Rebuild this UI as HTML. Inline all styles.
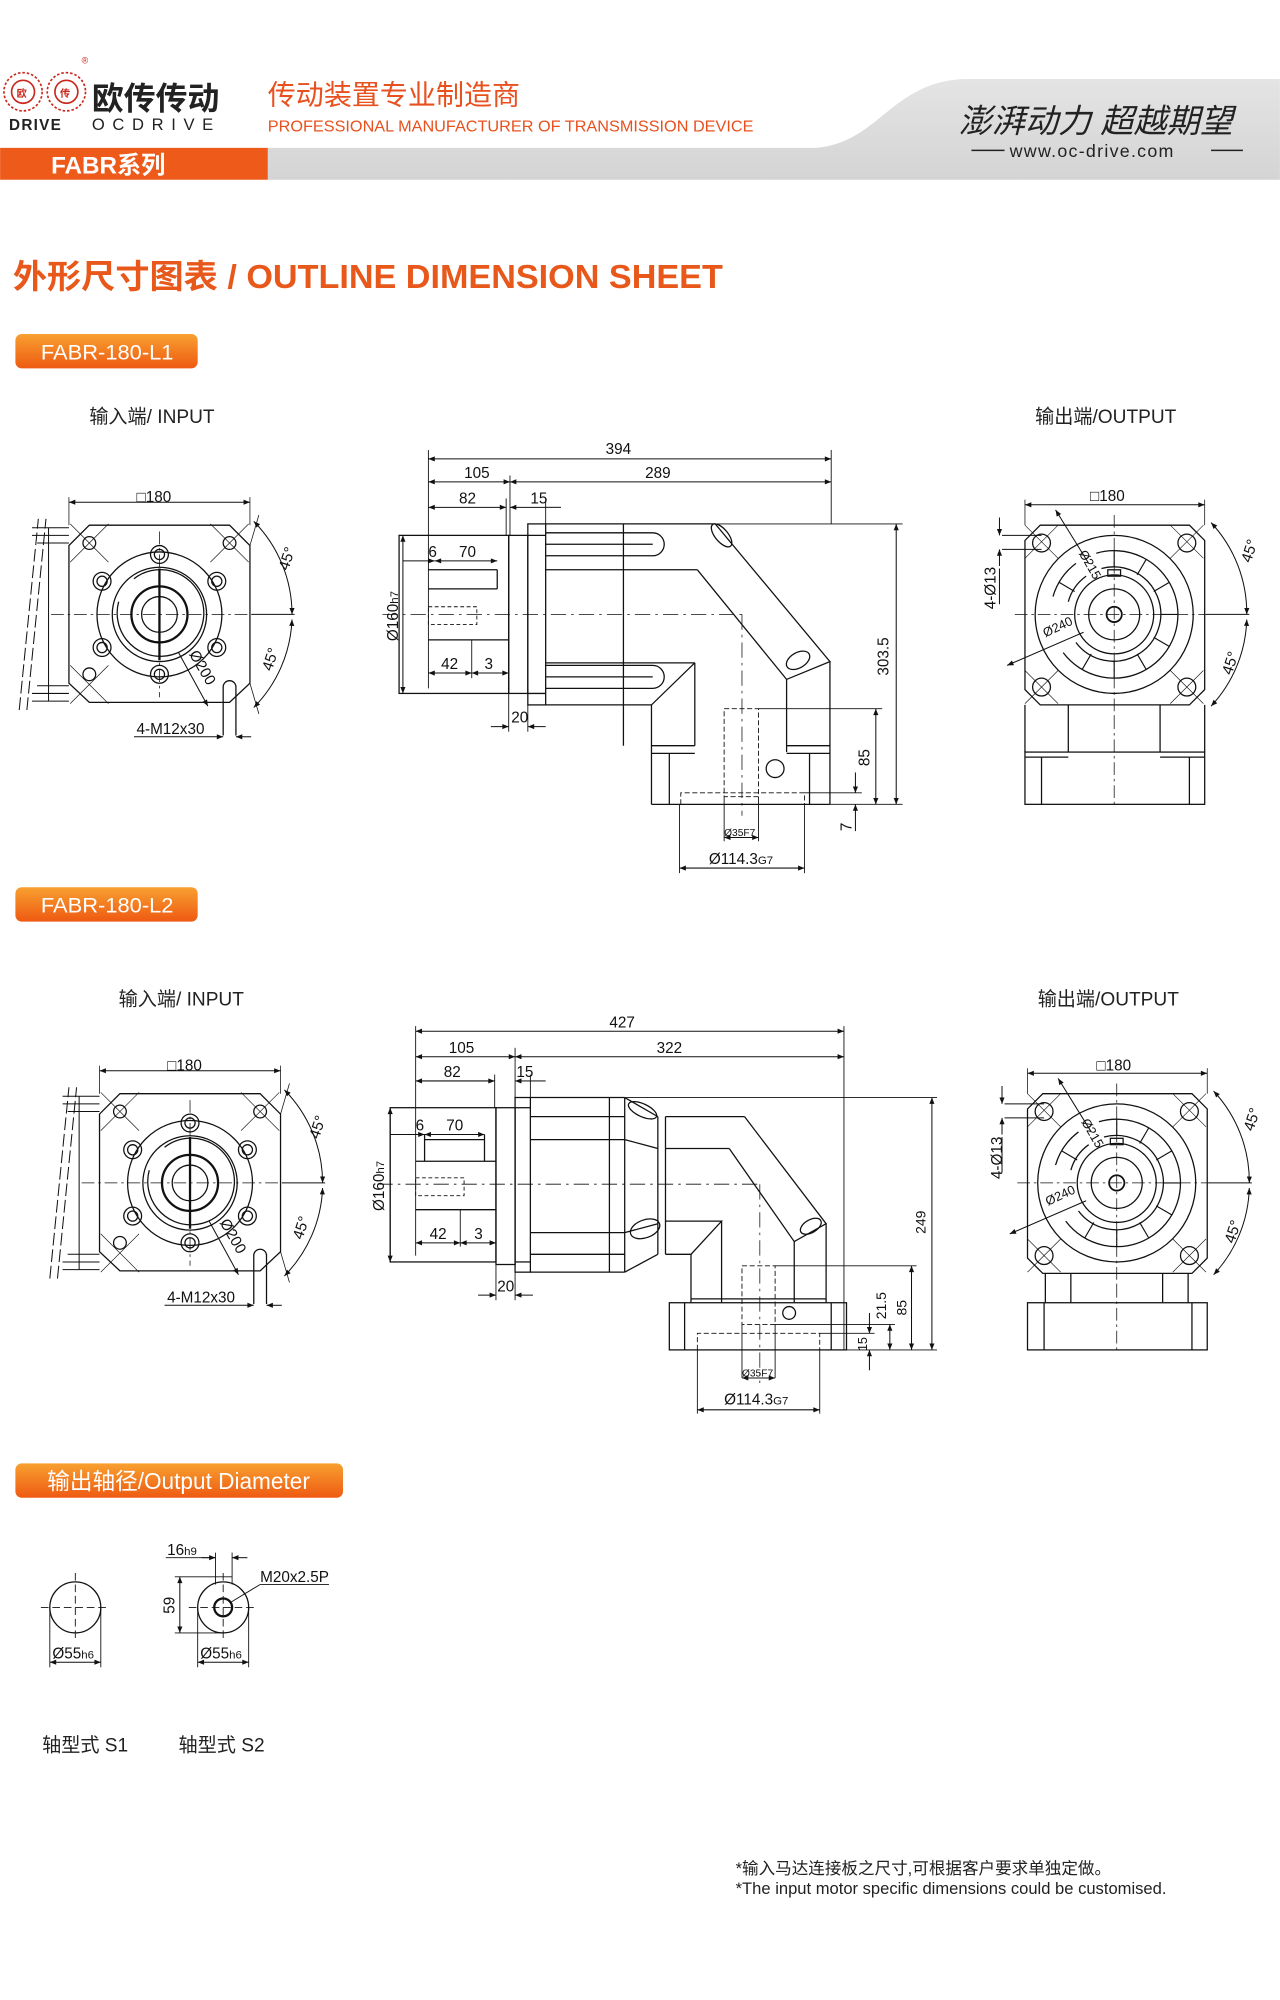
<!DOCTYPE html>
<html><head><meta charset="utf-8"><style>
html,body{margin:0;padding:0;background:#fff;}
svg{display:block;}
text{font-family:"Liberation Sans","Noto Sans CJK SC",sans-serif;}
</style></head><body>
<svg width="1280" height="2000" viewBox="0 0 1004 1569" xmlns="http://www.w3.org/2000/svg">
<defs>
<marker id="a" viewBox="0 0 10 10" refX="10" refY="5" markerWidth="7" markerHeight="5" markerUnits="userSpaceOnUse" orient="auto-start-reverse"><path d="M0,1 L10,5 L0,9z" fill="#111"/></marker>
<linearGradient id="og" x1="0" y1="0" x2="0" y2="1"><stop offset="0" stop-color="#f8a030"/><stop offset="1" stop-color="#ee5a12"/></linearGradient>
<linearGradient id="gg" x1="0" y1="0" x2="0" y2="1"><stop offset="0" stop-color="#e4e4e4"/><stop offset="1" stop-color="#d4d4d4"/></linearGradient>
</defs>

<!-- HEADER -->
<path d="M640,116 C690,112 700,62 760,62 L1004,62 L1004,141 L210,141 L210,116 Z" fill="url(#gg)"/>
<rect x="0" y="116" width="210" height="25" fill="#ee5a1a"/>
<text x="40" y="136" font-size="19" fill="#fff" font-weight="bold">FABR系列</text>
<g fill="none" stroke="#c8281e" stroke-width="1.3">
<circle cx="18" cy="72" r="15" stroke-dasharray="2 1.5"/><circle cx="18" cy="72" r="9"/>
<circle cx="52" cy="72" r="15" stroke-dasharray="2 1.5"/><circle cx="52" cy="72" r="9"/>
</g>
<text x="13" y="76" font-size="8" fill="#c8281e" font-weight="bold">欧</text>
<text x="47" y="76" font-size="8" fill="#c8281e" font-weight="bold">传</text>
<text x="64" y="50" font-size="7" fill="#c8281e">®</text>
<text x="72" y="86" font-size="25" font-weight="bold" fill="#222">欧传传动</text>
<text x="7" y="102" font-size="12" fill="#222" font-weight="bold" letter-spacing="1">DRIVE</text>
<text x="72" y="102" font-size="13" fill="#222" letter-spacing="6">OCDRIVE</text>
<text x="210" y="82" font-size="22" fill="#e8501e">传动装置专业制造商</text>
<text x="210" y="103" font-size="12.5" fill="#e8501e" textLength="381" lengthAdjust="spacingAndGlyphs">PROFESSIONAL MANUFACTURER OF TRANSMISSION DEVICE</text>
<text x="752" y="104" font-size="26" fill="#222" font-family="'Liberation Serif','Noto Serif CJK SC',serif" font-style="italic">澎湃动力 超越期望</text>
<line x1="762" y1="118" x2="788" y2="118" stroke="#222" stroke-width="1.2"/>
<line x1="950" y1="118" x2="975" y2="118" stroke="#222" stroke-width="1.2"/>
<text x="792" y="123" font-size="14" fill="#222" letter-spacing="1">www.oc-drive.com</text>

<!-- TITLE -->
<text x="10" y="226" font-size="26" font-weight="bold" fill="#e8581a" textLength="557" lengthAdjust="spacingAndGlyphs">外形尺寸图表 / OUTLINE DIMENSION SHEET</text>

<!-- PILLS -->
<rect x="12" y="262" width="143" height="27" rx="5" fill="url(#og)"/>
<text x="32" y="282" font-size="17" fill="#fff" textLength="104" lengthAdjust="spacingAndGlyphs">FABR-180-L1</text>
<rect x="12" y="696" width="143" height="27" rx="5" fill="url(#og)"/>
<text x="32" y="716" font-size="17" fill="#fff" textLength="104" lengthAdjust="spacingAndGlyphs">FABR-180-L2</text>
<rect x="12" y="1148" width="257" height="27" rx="5" fill="url(#og)"/>
<text x="37" y="1168" font-size="18" fill="#fff" textLength="206" lengthAdjust="spacingAndGlyphs">输出轴径/Output Diameter</text>

<!-- Section labels -->
<g font-size="15" fill="#222">
<text x="70" y="332">输入端/ INPUT</text>
<text x="812" y="332">输出端/OUTPUT</text>
<text x="93" y="789">输入端/ INPUT</text>
<text x="814" y="789">输出端/OUTPUT</text>
</g>

<!-- INPUT VIEW group -->
<g id="inv" transform="translate(125,482)" fill="none" stroke="#111" stroke-width="1">
<polygon points="-55,-70 55,-70 71,-54 71,54 55,69 -55,69 -71,54 -71,-54"/>
<g stroke-width="0.8">
<line x1="-100" y1="-68" x2="-71" y2="-68"/><line x1="-100" y1="-62" x2="-71" y2="-62"/><line x1="-96" y1="-56" x2="-71" y2="-56"/>
<line x1="-100" y1="68" x2="-71" y2="68"/><line x1="-100" y1="62" x2="-71" y2="62"/><line x1="-96" y1="56" x2="-71" y2="56"/>
<line x1="-87" y1="-68" x2="-87" y2="68"/>
<line x1="-110" y1="75" x2="-95" y2="-75" stroke-dasharray="10 3"/>
<line x1="-104" y1="75" x2="-89" y2="-75" stroke-dasharray="10 3"/>
</g>
<circle r="49"/><circle r="37"/><path d="M-32,-10 A34,34 0 1 0 -20,-28"/>
<circle r="22" stroke-width="1.8"/><circle r="14"/>
<line x1="0" y1="-36" x2="0" y2="36" stroke-width="1.8"/>
<g>
<circle cx="0" cy="-47" r="7"/><circle cx="0" cy="-47" r="4"/>
<circle cx="0" cy="47" r="7"/><circle cx="0" cy="47" r="4"/>
<circle cx="-45" cy="-26" r="7"/><circle cx="-45" cy="-26" r="4"/>
<circle cx="45" cy="-26" r="7"/><circle cx="45" cy="-26" r="4"/>
<circle cx="-45" cy="26" r="7"/><circle cx="-45" cy="26" r="4"/>
<circle cx="45" cy="26" r="7"/><circle cx="45" cy="26" r="4"/>
<circle cx="-55" cy="-56" r="5"/><circle cx="55" cy="-56" r="5"/>
<circle cx="-55" cy="47" r="5"/>
<path d="M50,56 L50,95 M60,56 L60,95 M50,57 A5,5 0 0 1 60,57"/>
</g>
<g stroke-width="0.5">
<line x1="-70" y1="-71" x2="-40" y2="-41"/><line x1="70" y1="-71" x2="40" y2="-41"/>
<line x1="-70" y1="70" x2="-40" y2="40"/><line x1="-40" y1="-71" x2="-70" y2="-41"/><line x1="40" y1="-71" x2="70" y2="-41"/>
<line x1="-40" y1="70" x2="-70" y2="40"/>
</g>
<g stroke-width="0.6" stroke-dasharray="10 3 2 3">
<line x1="-85" y1="0" x2="72" y2="0"/><line x1="0" y1="-65" x2="0" y2="65"/>
</g>
<line x1="72" y1="0" x2="106" y2="0" stroke-width="0.8"/>
<line x1="-71" y1="-88" x2="71" y2="-88" stroke-width="0.8" marker-start="url(#a)" marker-end="url(#a)"/>
<line x1="-71" y1="-92" x2="-71" y2="-70" stroke-width="0.6"/><line x1="71" y1="-92" x2="71" y2="-70" stroke-width="0.6"/>
<path d="M74,-73 A104,104 0 0 1 104,0" stroke-width="0.8" marker-start="url(#a)" marker-end="url(#a)"/>
<path d="M104,4 A104,104 0 0 1 74,73" stroke-width="0.8" marker-start="url(#a)" marker-end="url(#a)"/>
<line x1="71" y1="-54" x2="78" y2="-78" stroke-width="0.6"/><line x1="71" y1="54" x2="78" y2="78" stroke-width="0.6"/>
<line x1="15" y1="30" x2="38" y2="72" stroke-width="0.8" marker-end="url(#a)"/>
<line x1="-20" y1="96" x2="50" y2="96" stroke-width="0.8" marker-end="url(#a)"/>
<line x1="60" y1="96" x2="72" y2="96" stroke-width="0.8" marker-start="url(#a)"/>
</g>
<g font-size="12" fill="#111">
<text x="107" y="394">□180</text>
<text transform="translate(226,448) rotate(-72)">45°</text>
<text transform="translate(213,527) rotate(-72)">45°</text>
<text transform="translate(148,513) rotate(60)">Ø200</text>
<text x="107" y="576">4-M12x30</text>
</g>
<use href="#inv" transform="translate(24,446)"/>
<g font-size="12" fill="#111">
<text x="131" y="840">□180</text>
<text transform="translate(250,894) rotate(-72)">45°</text>
<text transform="translate(237,973) rotate(-72)">45°</text>
<text transform="translate(172,959) rotate(60)">Ø200</text>
<text x="131" y="1022">4-M12x30</text>
</g>

<!-- OUTPUT VIEW group (head only) -->
<g id="outv" transform="translate(874,482)" fill="none" stroke="#111" stroke-width="1">
<polygon points="-58,-70 59,-70 71,-58 71,59 59,71 -58,71 -70,59 -70,-58"/>
<circle r="62"/>
<path d="M-48,-14 A50,50 0 0 1 -30,-40 M-14,-48 A50,50 0 1 1 -40,30"/>
<path d="M-36,-10 A37,37 0 0 1 -22,-30 M-10,-36 A37,37 0 1 1 -30,22"/>
<circle r="31"/><circle r="20"/><circle r="6" stroke-width="1.4"/>
<rect x="-5" y="-35" width="10" height="5"/>
<g stroke-width="0.9">
<line x1="0" y1="-37" x2="0" y2="-50"/><line x1="18" y1="-31" x2="25" y2="-43"/><line x1="31" y1="-18" x2="43" y2="-25"/>
<line x1="37" y1="0" x2="50" y2="0"/><line x1="31" y1="18" x2="43" y2="25"/><line x1="18" y1="31" x2="25" y2="43"/>
<line x1="0" y1="37" x2="0" y2="50"/><line x1="-18" y1="31" x2="-25" y2="43"/><line x1="-31" y1="-18" x2="-43" y2="-25"/>
</g>
<circle cx="-57" cy="-56" r="7"/><circle cx="57" cy="-56" r="7"/><circle cx="-57" cy="57" r="7"/><circle cx="57" cy="57" r="7"/>
<g stroke-width="0.5">
<line x1="-70" y1="-70" x2="-44" y2="-44"/><line x1="70" y1="-70" x2="44" y2="-44"/>
<line x1="-70" y1="70" x2="-44" y2="44"/><line x1="70" y1="70" x2="44" y2="44"/>
<line x1="-44" y1="-70" x2="-70" y2="-44"/><line x1="44" y1="-70" x2="70" y2="-44"/>
<line x1="-44" y1="70" x2="-70" y2="44"/><line x1="44" y1="70" x2="70" y2="44"/>
</g>
<g stroke-width="0.6" stroke-dasharray="10 3 2 3">
<line x1="-78" y1="0" x2="72" y2="0"/><line x1="0" y1="-78" x2="0" y2="80"/>
</g>
<line x1="72" y1="0" x2="106" y2="0" stroke-width="0.8"/>
<line x1="-70" y1="-86" x2="71" y2="-86" stroke-width="0.8" marker-start="url(#a)" marker-end="url(#a)"/>
<line x1="-70" y1="-90" x2="-70" y2="-70" stroke-width="0.6"/><line x1="71" y1="-90" x2="71" y2="-70" stroke-width="0.6"/>
<path d="M-88,-62 L-57,-62 M-88,-51 L-57,-51" stroke-width="0.8"/>
<line x1="-90" y1="-76" x2="-90" y2="-62" stroke-width="0.8" marker-end="url(#a)"/>
<line x1="-90" y1="-38" x2="-90" y2="-51" stroke-width="0.8" marker-end="url(#a)"/>
<line x1="-90" y1="-36" x2="-90" y2="-8" stroke-width="0.8"/>
<path d="M76,-72 A104,104 0 0 1 104,0" stroke-width="0.8" marker-start="url(#a)" marker-end="url(#a)"/>
<path d="M104,4 A104,104 0 0 1 76,72" stroke-width="0.8" marker-start="url(#a)" marker-end="url(#a)"/>
<line x1="-20" y1="-40" x2="-46" y2="-82" stroke-width="0.8" marker-end="url(#a)"/>
<line x1="-24" y1="14" x2="-84" y2="40" stroke-width="0.8" marker-end="url(#a)"/>
</g>
<!-- L1 output lower part -->
<g transform="translate(874,482)" fill="none" stroke="#111" stroke-width="1">
<path d="M-70,71 L-70,108 M-36,71 L-36,108 M36,71 L36,108 M71,71 L71,108"/>
<rect x="-70" y="108" width="141" height="41"/>
<line x1="-70" y1="112" x2="-36" y2="112"/><line x1="36" y1="112" x2="71" y2="112"/>
<line x1="-57" y1="112" x2="-57" y2="149"/><line x1="59" y1="112" x2="59" y2="149"/>
<line x1="0" y1="80" x2="0" y2="152" stroke-width="0.6" stroke-dasharray="10 3 2 3"/>
</g>
<g font-size="12" fill="#111">
<text x="855" y="393">□180</text>
<text transform="translate(781,478) rotate(-90)">4-Ø13</text>
<text transform="translate(981,442) rotate(-72)">45°</text>
<text transform="translate(966,530) rotate(-72)">45°</text>
<text transform="translate(846,434) rotate(60)" font-size="10">Ø215</text>
<text transform="translate(820,500) rotate(-25)" font-size="10">Ø240</text>
</g>
<use href="#outv" transform="translate(2,446)"/>
<!-- L2 output lower part -->
<g transform="translate(876,928)" fill="none" stroke="#111" stroke-width="1">
<path d="M-56,71 L-56,94 M56,71 L56,94"/>
<line x1="-36" y1="71" x2="-36" y2="94"/><line x1="36" y1="71" x2="36" y2="94"/>
<rect x="-70" y="94" width="141" height="37"/>
<line x1="-57" y1="94" x2="-57" y2="131"/><line x1="59" y1="94" x2="59" y2="131"/>
<line x1="0" y1="80" x2="0" y2="134" stroke-width="0.6" stroke-dasharray="10 3 2 3"/>
</g>
<g font-size="12" fill="#111">
<text x="860" y="840">□180</text>
<text transform="translate(786,925) rotate(-90)">4-Ø13</text>
<text transform="translate(983,888) rotate(-72)">45°</text>
<text transform="translate(968,976) rotate(-72)">45°</text>
<text transform="translate(848,880) rotate(60)" font-size="10">Ø215</text>
<text transform="translate(822,946) rotate(-25)" font-size="10">Ø240</text>
</g>

<!-- L1 SIDE VIEW -->
<g fill="none" stroke="#111" stroke-width="1">
<rect x="313" y="420" width="86" height="124"/>
<line x1="336" y1="447" x2="390" y2="447"/><line x1="336" y1="462" x2="390" y2="462"/>
<line x1="336" y1="502" x2="399" y2="502"/><line x1="390" y1="447" x2="390" y2="462"/>
<rect x="336" y="476" width="38" height="14" stroke-dasharray="3 2" stroke-width="0.7"/>
<rect x="399" y="420" width="15" height="124"/>
<rect x="414" y="411" width="14" height="142"/>
<line x1="414" y1="420" x2="428" y2="420"/><line x1="414" y1="544" x2="428" y2="544"/>
<line x1="428" y1="411" x2="561" y2="411"/>
<path d="M428,418 L512,418 A9,9 0 0 1 512,436 L428,436"/>
<line x1="428" y1="427" x2="512" y2="427"/>
<line x1="428" y1="447" x2="547" y2="447"/>
<line x1="489" y1="411" x2="489" y2="585"/>
<path d="M561,411 L651,519 L617,533 L547,447"/>
<ellipse cx="566" cy="420" rx="5" ry="11" transform="rotate(-40 566 420)"/>
<ellipse cx="626" cy="518" rx="6" ry="10" transform="rotate(60 626 518)"/>
<line x1="428" y1="520" x2="545" y2="520"/>
<path d="M428,522 L512,522 A9,9 0 0 1 512,540 L428,540"/>
<line x1="428" y1="531" x2="512" y2="531"/>
<path d="M545,520 L511,553 L428,553"/>
<line x1="545" y1="520" x2="545" y2="585"/>
<line x1="651" y1="519" x2="651" y2="631"/>
<line x1="617" y1="533" x2="617" y2="590"/>
<line x1="511" y1="553" x2="511" y2="631"/>
<line x1="511" y1="585" x2="545" y2="585"/><line x1="617" y1="585" x2="651" y2="585"/>
<line x1="511" y1="591" x2="545" y2="591"/><line x1="617" y1="591" x2="651" y2="591"/>
<line x1="525" y1="591" x2="525" y2="631"/><line x1="635" y1="591" x2="635" y2="631"/>
<line x1="511" y1="631" x2="651" y2="631"/>
<circle cx="608" cy="603" r="7"/>
<g stroke-dasharray="4 2" stroke-width="0.7">
<rect x="568" y="556" width="27" height="69"/>
<path d="M534,631 L534,622 L631,622 L631,631"/>
</g>
<g stroke-width="0.6" stroke-dasharray="12 4 2 4">
<line x1="300" y1="482" x2="582" y2="482"/><line x1="582" y1="482" x2="582" y2="640"/>
</g>
<g stroke-width="0.7">
<line x1="336" y1="353" x2="336" y2="540"/><line x1="652" y1="353" x2="652" y2="411"/>
<line x1="400" y1="373" x2="400" y2="420"/><line x1="428" y1="391" x2="428" y2="411"/>
<line x1="397" y1="391" x2="397" y2="420"/>
<line x1="428" y1="411" x2="708" y2="411"/><line x1="651" y1="631" x2="708" y2="631"/>
<line x1="595" y1="556" x2="692" y2="556"/><line x1="631" y1="622" x2="676" y2="622"/>
<line x1="399" y1="544" x2="399" y2="574"/><line x1="414" y1="553" x2="414" y2="574"/>
<line x1="370" y1="502" x2="370" y2="532"/>
<line x1="533" y1="631" x2="533" y2="685"/><line x1="631" y1="631" x2="631" y2="685"/>
<line x1="568" y1="625" x2="568" y2="660"/><line x1="595" y1="625" x2="595" y2="660"/>
</g>
<g stroke-width="0.8">
<line x1="336" y1="360" x2="652" y2="360" marker-start="url(#a)" marker-end="url(#a)"/>
<line x1="336" y1="378" x2="400" y2="378" marker-start="url(#a)" marker-end="url(#a)"/>
<line x1="400" y1="378" x2="652" y2="378" marker-start="url(#a)" marker-end="url(#a)"/>
<line x1="336" y1="398" x2="397" y2="398" marker-start="url(#a)" marker-end="url(#a)"/>
<line x1="400" y1="398" x2="428" y2="398" marker-start="url(#a)"/><line x1="428" y1="398" x2="440" y2="398"/>
<line x1="316" y1="420" x2="316" y2="544" marker-start="url(#a)" marker-end="url(#a)"/>
<line x1="316" y1="440" x2="341" y2="440" marker-end="url(#a)"/><line x1="341" y1="440" x2="390" y2="440" marker-start="url(#a)" marker-end="url(#a)"/>
<line x1="336" y1="528" x2="370" y2="528" marker-start="url(#a)" marker-end="url(#a)"/>
<line x1="370" y1="528" x2="399" y2="528" marker-start="url(#a)" marker-end="url(#a)"/>
<line x1="385" y1="570" x2="399" y2="570" marker-end="url(#a)"/><line x1="428" y1="570" x2="414" y2="570" marker-end="url(#a)"/>
<line x1="703" y1="411" x2="703" y2="631" marker-start="url(#a)" marker-end="url(#a)"/>
<line x1="687" y1="556" x2="687" y2="631" marker-start="url(#a)" marker-end="url(#a)"/>
<line x1="671" y1="606" x2="671" y2="622" marker-end="url(#a)"/><line x1="671" y1="652" x2="671" y2="631" marker-end="url(#a)"/>
<line x1="568" y1="657" x2="595" y2="657" marker-start="url(#a)" marker-end="url(#a)"/>
<line x1="533" y1="681" x2="631" y2="681" marker-start="url(#a)" marker-end="url(#a)"/>
</g>
</g>
<g font-size="12" fill="#111">
<text x="475" y="356">394</text><text x="364" y="375">105</text><text x="506" y="375">289</text>
<text x="360" y="395">82</text><text x="416" y="395">15</text>
<text x="336" y="437">6</text><text x="360" y="437">70</text>
<text x="346" y="525">42</text><text x="380" y="525">3</text>
<text x="401" y="567">20</text>
<text transform="translate(312,503) rotate(-90)">Ø160<tspan font-size="9">h7</tspan></text>
<text transform="translate(697,530) rotate(-90)">303.5</text>
<text transform="translate(682,601) rotate(-90)">85</text>
<text transform="translate(668,652) rotate(-90)">7</text>
<text x="568" y="656" font-size="8">Ø35F7</text>
<text x="556" y="678">Ø114.3<tspan font-size="9">G7</tspan></text>
</g>

<!-- L2 SIDE VIEW -->
<g fill="none" stroke="#111" stroke-width="1">
<rect x="306" y="869" width="83" height="121"/>
<line x1="333" y1="894" x2="380" y2="894"/><line x1="326" y1="911" x2="389" y2="911"/>
<line x1="326" y1="949" x2="389" y2="949"/><line x1="333" y1="890" x2="333" y2="911"/><line x1="380" y1="890" x2="380" y2="911"/>
<rect x="326" y="924" width="38" height="14" stroke-dasharray="3 2" stroke-width="0.7"/>
<rect x="389" y="869" width="15" height="123"/>
<rect x="404" y="861" width="12" height="137"/>
<line x1="404" y1="869" x2="416" y2="869"/><line x1="404" y1="990" x2="416" y2="990"/>
<line x1="416" y1="861" x2="490" y2="861"/><line x1="416" y1="998" x2="490" y2="998"/>
<line x1="416" y1="876" x2="490" y2="876"/><line x1="416" y1="894" x2="490" y2="894"/>
<line x1="416" y1="967" x2="490" y2="967"/><line x1="416" y1="984" x2="490" y2="984"/>
<line x1="478" y1="861" x2="478" y2="998"/><line x1="490" y1="861" x2="490" y2="998"/>
<path d="M490,861 L516,876 M490,894 L516,901 M490,967 L516,960 M490,998 L516,984"/>
<ellipse cx="504" cy="871" rx="12" ry="5" transform="rotate(25 504 871)"/>
<ellipse cx="506" cy="964" rx="12" ry="7" transform="rotate(-20 506 964)"/>
<line x1="516" y1="876" x2="516" y2="984"/><line x1="522" y1="876" x2="522" y2="984"/>
<line x1="522" y1="876" x2="584" y2="876"/><line x1="522" y1="901" x2="572" y2="901"/>
<path d="M584,876 L648,960 L623,974 L572,901"/>
<ellipse cx="636" cy="962" rx="5" ry="9" transform="rotate(60 636 962)"/>
<path d="M522,984 L542,984 L566,958 L522,958"/>
<line x1="542" y1="984" x2="542" y2="1022"/><line x1="566" y1="958" x2="566" y2="1022"/>
<line x1="648" y1="960" x2="648" y2="1022"/><line x1="623" y1="974" x2="623" y2="1022"/>
<rect x="525" y="1022" width="139" height="37"/>
<line x1="537" y1="1022" x2="537" y2="1059"/><line x1="652" y1="1022" x2="652" y2="1059"/>
<line x1="542" y1="1019" x2="648" y2="1019"/>
<circle cx="619" cy="1030" r="5"/>
<g stroke-dasharray="4 2" stroke-width="0.7">
<rect x="582" y="993" width="26" height="46"/>
<path d="M547,1059 L547,1046 L643,1046 L643,1059"/>
</g>
<g stroke-width="0.6" stroke-dasharray="12 4 2 4">
<line x1="296" y1="929" x2="596" y2="929"/><line x1="596" y1="929" x2="596" y2="1085"/>
</g>
<g stroke-width="0.7">
<line x1="326" y1="805" x2="326" y2="985"/><line x1="662" y1="805" x2="662" y2="1059"/>
<line x1="404" y1="822" x2="404" y2="861"/><line x1="416" y1="843" x2="416" y2="861"/>
<line x1="388" y1="843" x2="388" y2="869"/>
<line x1="490" y1="861" x2="735" y2="861"/><line x1="664" y1="1059" x2="735" y2="1059"/>
<line x1="608" y1="993" x2="719" y2="993"/><line x1="608" y1="1039" x2="702" y2="1039"/>
<line x1="643" y1="1046" x2="686" y2="1046"/>
<line x1="389" y1="992" x2="389" y2="1020"/><line x1="404" y1="998" x2="404" y2="1020"/>
<line x1="361" y1="949" x2="361" y2="978"/>
<line x1="547" y1="1059" x2="547" y2="1109"/><line x1="643" y1="1059" x2="643" y2="1109"/>
<line x1="582" y1="1039" x2="582" y2="1081"/><line x1="608" y1="1039" x2="608" y2="1081"/>
</g>
<g stroke-width="0.8">
<line x1="326" y1="809" x2="662" y2="809" marker-start="url(#a)" marker-end="url(#a)"/>
<line x1="326" y1="829" x2="404" y2="829" marker-start="url(#a)" marker-end="url(#a)"/>
<line x1="404" y1="829" x2="662" y2="829" marker-start="url(#a)" marker-end="url(#a)"/>
<line x1="326" y1="848" x2="388" y2="848" marker-start="url(#a)" marker-end="url(#a)"/>
<line x1="404" y1="848" x2="416" y2="848" marker-start="url(#a)"/><line x1="416" y1="848" x2="428" y2="848"/>
<line x1="306" y1="869" x2="306" y2="990" marker-start="url(#a)" marker-end="url(#a)"/>
<line x1="306" y1="890" x2="333" y2="890" marker-end="url(#a)"/><line x1="333" y1="890" x2="380" y2="890" marker-start="url(#a)" marker-end="url(#a)"/>
<line x1="326" y1="975" x2="361" y2="975" marker-start="url(#a)" marker-end="url(#a)"/>
<line x1="361" y1="975" x2="389" y2="975" marker-start="url(#a)" marker-end="url(#a)"/>
<line x1="375" y1="1016" x2="389" y2="1016" marker-end="url(#a)"/><line x1="418" y1="1016" x2="404" y2="1016" marker-end="url(#a)"/>
<line x1="731" y1="861" x2="731" y2="1059" marker-start="url(#a)" marker-end="url(#a)"/>
<line x1="715" y1="993" x2="715" y2="1059" marker-start="url(#a)" marker-end="url(#a)"/>
<line x1="698" y1="1039" x2="698" y2="1059" marker-start="url(#a)" marker-end="url(#a)"/>
<line x1="682" y1="1030" x2="682" y2="1046" marker-end="url(#a)"/><line x1="682" y1="1075" x2="682" y2="1059" marker-end="url(#a)"/>
<line x1="582" y1="1081" x2="608" y2="1081" marker-start="url(#a)" marker-end="url(#a)"/>
<line x1="547" y1="1106" x2="643" y2="1106" marker-start="url(#a)" marker-end="url(#a)"/>
</g>
</g>
<g font-size="12" fill="#111">
<text x="478" y="806">427</text><text x="352" y="826">105</text><text x="515" y="826">322</text>
<text x="348" y="845">82</text><text x="405" y="845">15</text>
<text x="326" y="887">6</text><text x="350" y="887">70</text>
<text x="337" y="972">42</text><text x="372" y="972">3</text>
<text x="390" y="1013">20</text>
<text transform="translate(301,950) rotate(-90)">Ø160<tspan font-size="9">h7</tspan></text>
<text transform="translate(726,968) rotate(-90)" font-size="11">249</text>
<text transform="translate(711,1032) rotate(-90)" font-size="11">85</text>
<text transform="translate(695,1035) rotate(-90)" font-size="11">21.5</text>
<text transform="translate(680,1060) rotate(-90)" font-size="10">15</text>
<text x="582" y="1080" font-size="8">Ø35F7</text>
<text x="568" y="1102">Ø114.3<tspan font-size="9">G7</tspan></text>
</g>

<!-- OUTPUT SHAFTS -->
<g fill="none" stroke="#111" stroke-width="1">
<circle cx="59" cy="1261" r="20"/>
<g stroke-width="0.7">
<line x1="32" y1="1261" x2="86" y2="1261" stroke-dasharray="6 3"/><line x1="59" y1="1234" x2="59" y2="1288" stroke-dasharray="6 3"/>
<line x1="39" y1="1261" x2="39" y2="1308"/><line x1="79" y1="1261" x2="79" y2="1308"/>
</g>
<line x1="39" y1="1304" x2="79" y2="1304" stroke-width="0.8" marker-start="url(#a)" marker-end="url(#a)"/>
<circle cx="175" cy="1261" r="20"/><circle cx="175" cy="1261" r="7" stroke-width="1.8"/>
<g stroke-width="0.7">
<line x1="148" y1="1261" x2="202" y2="1261" stroke-dasharray="6 3"/><line x1="175" y1="1234" x2="175" y2="1288" stroke-dasharray="6 3"/>
<line x1="155" y1="1261" x2="155" y2="1308"/><line x1="195" y1="1261" x2="195" y2="1308"/>
<line x1="169" y1="1218" x2="169" y2="1243"/><line x1="182" y1="1218" x2="182" y2="1243"/>
<line x1="137" y1="1237" x2="182" y2="1237"/><line x1="137" y1="1281" x2="175" y2="1281"/>
<line x1="181" y1="1257" x2="204" y2="1243"/><line x1="204" y1="1243" x2="258" y2="1243"/>
<line x1="130" y1="1222" x2="169" y2="1222"/>
</g>
<g stroke-width="0.8">
<line x1="155" y1="1304" x2="195" y2="1304" marker-start="url(#a)" marker-end="url(#a)"/>
<line x1="141" y1="1237" x2="141" y2="1281" marker-start="url(#a)" marker-end="url(#a)"/>
<line x1="158" y1="1222" x2="169" y2="1222" marker-end="url(#a)"/><line x1="194" y1="1222" x2="182" y2="1222" marker-end="url(#a)"/>
</g>
</g>
<g font-size="12" fill="#111">
<text x="41" y="1301">Ø55<tspan font-size="9">h6</tspan></text>
<text x="157" y="1301">Ø55<tspan font-size="9">h6</tspan></text>
<text x="131" y="1220">16<tspan font-size="9">h9</tspan></text>
<text x="204" y="1241">M20x2.5P</text>
<text transform="translate(137,1266) rotate(-90)">59</text>
</g>
<g font-size="15" fill="#222">
<text x="33" y="1374">轴型式 S1</text>
<text x="140" y="1374">轴型式 S2</text>
</g>
<g font-size="13" fill="#222">
<text x="577" y="1470">*输入马达连接板之尺寸,可根据客户要求单独定做。</text>
<text x="577" y="1486">*The input motor specific dimensions could be customised.</text>
</g>
</svg>
</body></html>
